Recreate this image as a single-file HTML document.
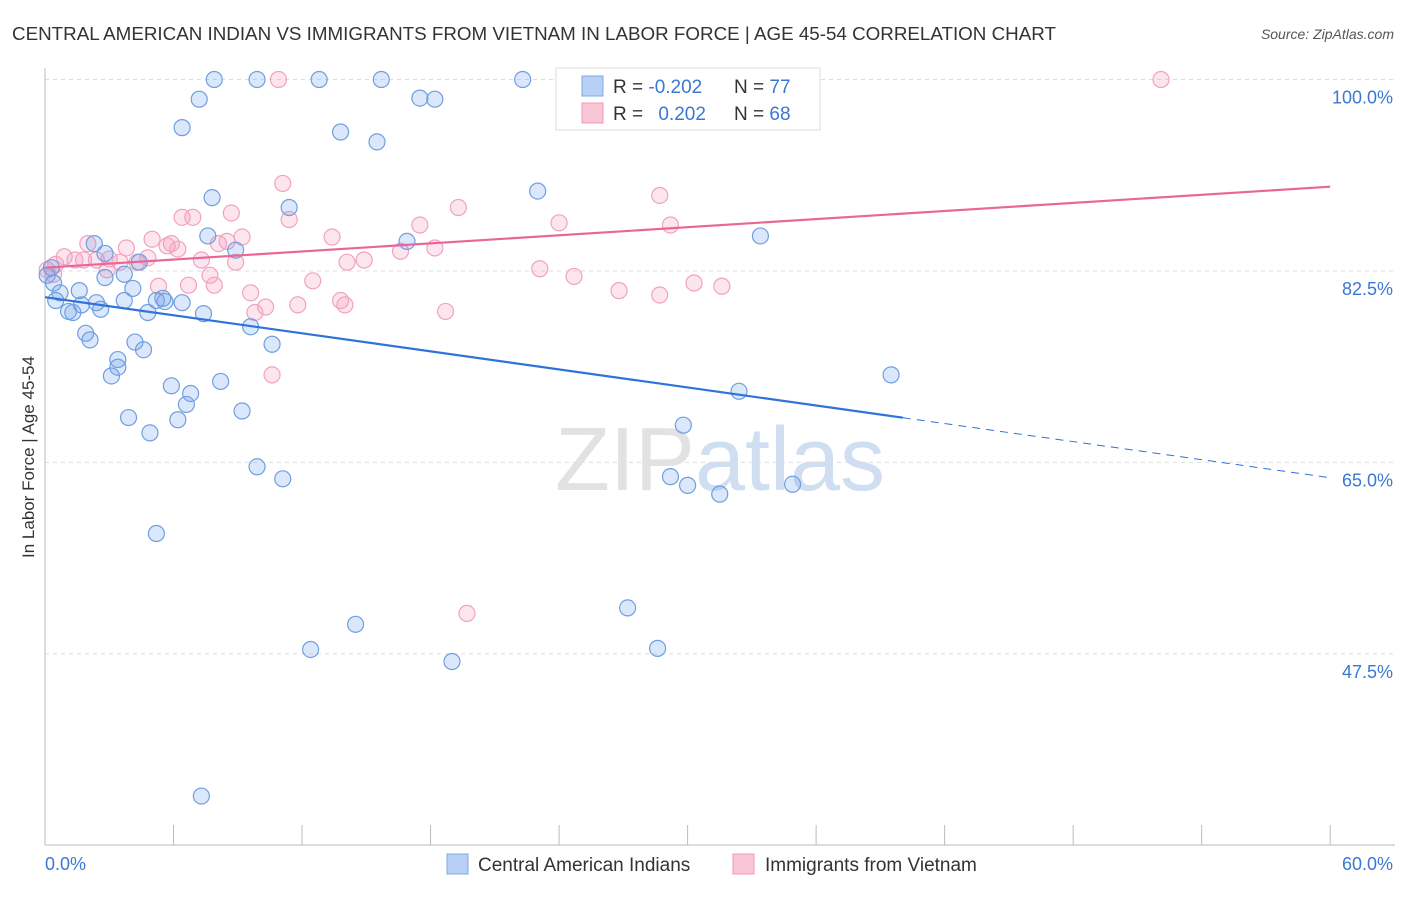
<!DOCTYPE html>
<html><head><meta charset="utf-8"><style>
body{margin:0;background:#fff;font-family:"Liberation Sans",sans-serif}
svg text{font-family:"Liberation Sans",sans-serif}
</style></head><body>
<svg id="c" width="1406" height="892">
<text x="12" y="40" font-size="18.8" fill="#333">CENTRAL AMERICAN INDIAN VS IMMIGRANTS FROM VIETNAM IN LABOR FORCE | AGE 45-54 CORRELATION CHART</text>
<text x="1394" y="39" font-size="14" font-style="italic" fill="#555" text-anchor="end">Source: ZipAtlas.com</text>
<text x="720" y="490" font-size="90" fill="#e2e2e2" text-anchor="middle" font-family="Liberation Serif">ZIP<tspan fill="#d0def2" font-family="Liberation Sans">atlas</tspan></text>
<text transform="translate(34,457) rotate(-90)" font-size="17" fill="#333" text-anchor="middle">In Labor Force | Age 45-54</text>
<g id="grid"></g><g id="pts"></g><g id="trend"></g>
<g>
<rect x="556" y="68" width="264" height="62" fill="#fff" stroke="#ddd"/>
<rect x="582" y="76" width="21" height="20" fill="#b8d0f4" stroke="#7fa8e6"/>
<rect x="582" y="103" width="21" height="20" fill="#f9c6d6" stroke="#f09ab8"/>
<text x="613" y="93" font-size="19" fill="#333">R = <tspan fill="#3a78d4">-0.202</tspan></text>
<text x="734" y="93" font-size="19" fill="#333">N = <tspan fill="#3a78d4">77</tspan></text>
<text x="613" y="120" font-size="19" fill="#333">R = <tspan fill="#3a78d4" dx="10">0.202</tspan></text>
<text x="734" y="120" font-size="19" fill="#333">N = <tspan fill="#3a78d4">68</tspan></text>
</g>
<g>
<rect x="447" y="854" width="21" height="20" fill="#b8d0f4" stroke="#7fa8e6"/>
<text x="478" y="871" font-size="19" fill="#333">Central American Indians</text>
<rect x="733" y="854" width="21" height="20" fill="#f9c6d6" stroke="#f09ab8"/>
<text x="765" y="871" font-size="19" fill="#333">Immigrants from Vietnam</text>
</g>
</svg>
<script>
const yTicks=[100,82.5,65,47.5];
const yTickLabels=["100.0%","82.5%","65.0%","47.5%"];
const xLabels=["0.0%","60.0%"];
const blueX=[7.9,9.9,12.8,15.7,22.3,7.2,17.5,18.2,6.4,13.8,15.5,23.0,7.8,11.4,7.6,16.9,33.4,2.3,8.9,2.8,4.4,0.3,0.1,3.7,2.8,0.4,4.1,1.6,0.7,0.5,3.7,5.5,5.2,5.6,6.4,2.4,1.7,1.1,2.6,1.3,4.8,7.4,9.6,1.9,2.1,10.6,4.2,4.6,3.4,3.4,3.1,39.5,5.9,8.2,6.8,32.4,6.6,9.2,3.9,6.2,29.8,4.9,9.9,11.1,29.2,30.0,31.5,34.9,5.2,27.2,14.5,12.4,28.6,19.0,7.3];
const blueY=[100,100,100,100,100,98.2,98.3,98.2,95.6,95.2,94.3,89.8,89.2,88.3,85.7,85.2,85.7,85.0,84.4,84.1,83.3,82.8,82.1,82.2,81.9,81.4,80.9,80.7,80.5,79.8,79.8,80.0,79.8,79.7,79.6,79.6,79.4,78.8,79.0,78.7,78.7,78.6,77.4,76.8,76.2,75.8,76.0,75.3,74.4,73.7,72.9,73.0,72.0,72.4,71.3,71.5,70.3,69.7,69.1,68.9,68.4,67.7,64.6,63.5,63.7,62.9,62.1,63.0,58.5,51.7,50.2,47.9,48.0,46.8,34.5];
const pinkX=[10.9,24.8,52.1,11.1,28.7,19.3,6.4,6.9,11.4,8.7,17.5,24.0,29.2,13.4,9.2,8.5,8.1,2.0,5.0,5.9,5.7,3.8,6.2,18.2,16.6,0.9,1.4,1.8,2.4,3.0,3.5,4.3,4.8,7.3,8.9,14.1,14.9,0.5,0.1,0.4,2.9,7.7,23.1,24.7,12.5,5.3,6.7,7.9,30.3,31.6,26.8,28.7,9.6,13.8,14.0,11.8,10.3,9.8,18.7,10.6,19.7];
const pinkY=[100,100,100,90.5,89.4,88.3,87.4,87.4,87.2,87.8,86.7,86.9,86.7,85.6,85.6,85.2,85.0,85.0,85.4,85.0,84.8,84.6,84.5,84.6,84.3,83.8,83.5,83.5,83.5,83.6,83.3,83.3,83.7,83.5,83.3,83.3,83.5,83.1,82.6,82.2,82.6,82.1,82.7,82.0,81.6,81.1,81.2,81.2,81.4,81.1,80.7,80.3,80.5,79.8,79.4,79.4,79.2,78.7,78.8,73.0,51.2];
const blueTrend=[80.1,63.6], blueSolidEnd=40.05;
const pinkTrend=[82.8,90.2];
const X=v=>45+v*21.42, Y=v=>79.5+(100-v)*10.94;
const NS="http://www.w3.org/2000/svg";
function mk(p,t,a){const e=document.createElementNS(NS,t);for(const k in a)e.setAttribute(k,a[k]);p.appendChild(e);return e;}
const g=document.getElementById('grid');
yTicks.forEach((t,i)=>{
 const l=mk(g,'line',{x1:45,x2:1395,y1:Y(t),y2:Y(t),stroke:'#ddd','stroke-dasharray':'4,4'});
 
 
 const tx=mk(g,'text',{x:1393,y:Y(t)+24,'font-size':18,fill:'#3a78d4','text-anchor':'end'});
 tx.textContent=yTickLabels[i];
 
 
});
const ax=mk(g,'line',{x1:45,x2:45,y1:68,y2:845,stroke:'#bbb'});


const bx=mk(g,'line',{x1:45,x2:1395,y1:845,y2:845,stroke:'#bbb'});


for(let i=0;i<=10;i++){const t=mk(g,'line',{x1:X(i*6),x2:X(i*6),y1:825,y2:845,stroke:'#bbb'});
 
 }
xLabels.forEach((s,i)=>{const t=mk(g,'text',{x:i?1393:45,y:870,'font-size':18,fill:'#3a78d4','text-anchor':i?'end':'start'});t.textContent=s;
 
 });
const p=document.getElementById('pts');
pinkX.forEach((x,i)=>{const c=mk(p,'circle',{cx:X(x),cy:Y(pinkY[i]),r:8,fill:'rgba(244,150,185,0.25)',stroke:'#f2a2c0','stroke-width':1.2});
 
 });
blueX.forEach((x,i)=>{const c=mk(p,'circle',{cx:X(x),cy:Y(blueY[i]),r:8,fill:'rgba(110,160,235,0.25)',stroke:'#6f9fe0','stroke-width':1.2});
 
 });
const tr=document.getElementById('trend');
const bAt=v=>blueTrend[0]+(blueTrend[1]-blueTrend[0])*v/60;
const l1=mk(tr,'line',{x1:X(0),y1:Y(bAt(0)),x2:X(blueSolidEnd),y2:Y(bAt(blueSolidEnd)),stroke:'#2f72d8','stroke-width':2.2});


const l2=mk(tr,'line',{x1:X(blueSolidEnd),y1:Y(bAt(blueSolidEnd)),x2:X(60),y2:Y(bAt(60)),stroke:'#2f72d8','stroke-width':1,'stroke-dasharray':'8,6'});


const l3=mk(tr,'line',{x1:X(0),y1:Y(pinkTrend[0]),x2:X(60),y2:Y(pinkTrend[1]),stroke:'#e8669a','stroke-width':2.2});


</script>
</body></html>
